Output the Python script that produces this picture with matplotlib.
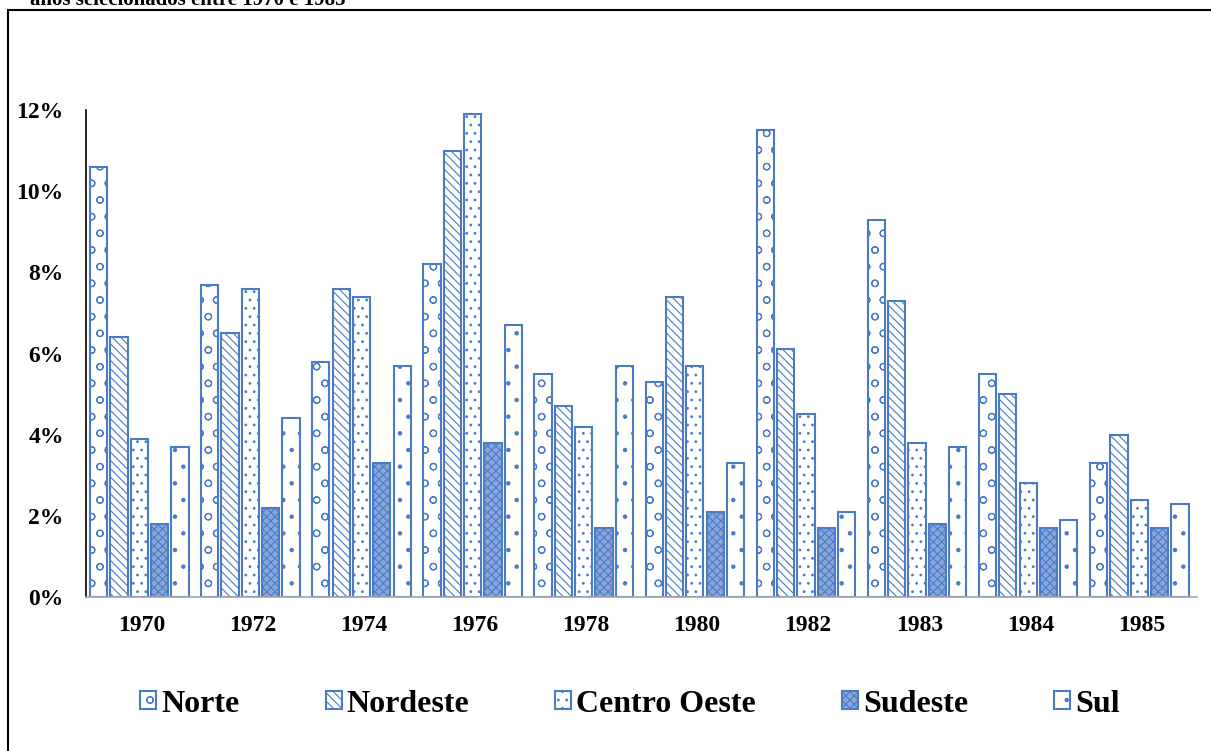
import matplotlib
matplotlib.use("Agg")
import matplotlib.pyplot as plt
import numpy as np
from matplotlib.patches import Rectangle
from matplotlib.ticker import FuncFormatter

years = ["1970", "1972", "1974", "1976", "1978", "1980", "1982", "1983", "1984", "1985"]
regions = ["Norte", "Nordeste", "Centro Oeste", "Sudeste", "Sul"]

norte = [10.6, 7.7, 5.8, 8.2, 5.5, 5.3, 11.5, 9.3, 5.5, 3.3]
nordeste = [6.4, 6.5, 7.6, 11.0, 4.7, 7.4, 6.1, 7.3, 5.0, 4.0]
centro_oeste = [3.9, 7.6, 7.4, 11.9, 4.2, 5.7, 4.5, 3.8, 2.8, 2.4]
sudeste = [1.8, 2.2, 3.3, 3.8, 1.7, 2.1, 1.7, 1.8, 1.7, 1.7]
sul = [3.7, 4.4, 5.7, 6.7, 5.7, 3.3, 2.1, 3.7, 1.9, 2.3]

series = [norte, nordeste, centro_oeste, sudeste, sul]
hatches = ["o", "\\\\\\\\", "..", "xxxx", "."]
faces = ["white", "white", "white", "#8AA7DC", "white"]
EDGE = "#4A7BC4"

plt.rcParams["font.family"] = ["Liberation Serif", "DejaVu Serif"]
plt.rcParams["font.weight"] = "bold"
plt.rcParams["hatch.linewidth"] = 0.8

fig = plt.figure(figsize=(12.11, 7.51), dpi=100)
ax = fig.add_axes([86 / 1211, 154 / 751, 1111 / 1211, 487 / 751])

x = np.arange(len(years))
pitch = 0.183
width = 0.155
for i, (vals, name) in enumerate(zip(series, regions)):
    ax.bar(x + (i - 2) * pitch - 0.02, vals, width, label=name,
           facecolor=faces[i], edgecolor=EDGE, hatch=hatches[i], linewidth=1.5)

ax.set_xlim(-0.5, len(years) - 0.5)
ax.set_ylim(0, 12)
ax.set_yticks(range(0, 13, 2))
ax.yaxis.set_major_formatter(FuncFormatter(lambda v, p: f"{int(v)}%"))
ax.set_xticks(x)
ax.set_xticklabels(years)
ax.tick_params(axis="both", length=0, labelsize=17)
ax.tick_params(axis="y", pad=16)
ax.tick_params(axis="x", pad=13)
for lab in ax.get_xticklabels() + ax.get_yticklabels():
    lab.set_fontweight("bold")

for s in ["top", "right"]:
    ax.spines[s].set_visible(False)
ax.spines["left"].set_color("black")
ax.spines["left"].set_linewidth(1.2)
ax.spines["bottom"].set_color("#A6A6A6")
ax.spines["bottom"].set_linewidth(1.2)

leg = fig.legend(loc="center", bbox_to_anchor=(630 / 1211, 1 - 704 / 751), ncol=5,
                 frameon=False, prop={"family": "Liberation Serif", "weight": "bold", "size": 23},
                 handlelength=0.5, handleheight=0.5, handletextpad=0.15, columnspacing=2.7)

# outer frame of the embedded chart (cut off at right and bottom)
fig.patches.append(Rectangle((8 / 1211, -0.05), 1.1, 0.05 + 741 / 751, transform=fig.transFigure,
                             fill=False, edgecolor="black", linewidth=1.5))

# caption above the frame, mostly cropped away
fig.text(30 / 1211, 1 - 5 / 751, "anos selecionados entre 1970 e 1985", fontsize=15,
         fontweight="bold", va="baseline", ha="left")

fig.savefig("out.png", dpi=100)
